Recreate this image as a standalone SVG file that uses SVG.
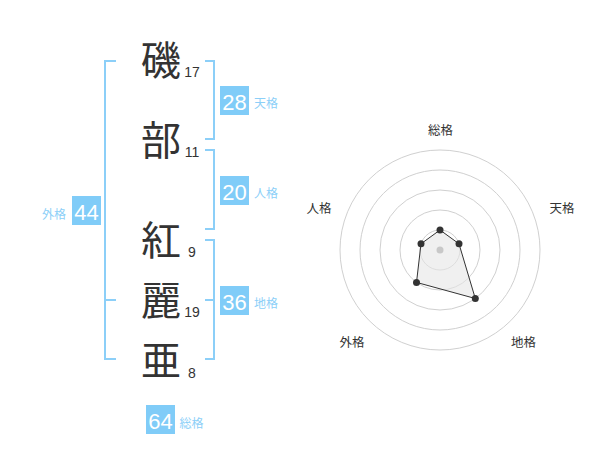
<svg xmlns="http://www.w3.org/2000/svg" width="600" height="470" viewBox="0 0 600 470">
<style>
.kanji{font-family:"Noto Sans CJK JP","Noto Sans CJK SC",sans-serif;font-size:40px;fill:#333;text-anchor:middle}
.num{font-family:"Liberation Sans",Arial,sans-serif;font-size:14px;fill:#333;text-anchor:middle}
.box{fill:#80ccf8}
.boxt{font-family:"Liberation Sans",Arial,sans-serif;font-size:22px;fill:#fff;text-anchor:middle}
.lab{font-family:"Noto Sans CJK JP","Noto Sans CJK SC",sans-serif;font-size:12px;fill:#8ccff8}
.br{fill:none;stroke:#8ccff8;stroke-width:2}
.ring{fill:none;stroke:#d0d0d0;stroke-width:1}
.rl{font-family:"Noto Sans CJK JP","Noto Sans CJK SC",sans-serif;font-size:12.5px;fill:#333;text-anchor:middle}
.pt{fill:#333}
</style>
<g id="connectors">
<path class="br" d="M205,61 H214 V139 H205"/>
<path class="br" d="M205,150 H214 V229 H205"/>
<path class="br" d="M205,240 H214 V359 H205 M205,300 H214"/>
<path class="br" d="M116,61 H105 V359 H116 M105,300 H116"/>
</g>
<g id="chars">
<text class="kanji" x="161" y="75">磯</text><text class="num" x="192" y="77">17</text>
<text class="kanji" x="161" y="155">部</text><text class="num" x="192" y="157">11</text>
<text class="kanji" x="161" y="255">紅</text><text class="num" x="192" y="257">9</text>
<text class="kanji" x="161" y="315">麗</text><text class="num" x="192" y="317">19</text>
<text class="kanji" x="161" y="375">亜</text><text class="num" x="192" y="378">8</text>
</g>
<g id="tenkaku"><rect class="box" x="220" y="86" width="29" height="29"/><text class="boxt" x="234.5" y="110">28</text><text class="lab" x="254" y="108">天格</text></g>
<g id="jinkaku"><rect class="box" x="220" y="176" width="29" height="29"/><text class="boxt" x="234.5" y="200">20</text><text class="lab" x="254" y="198">人格</text></g>
<g id="chikaku"><rect class="box" x="220" y="286" width="29" height="29"/><text class="boxt" x="234.5" y="310">36</text><text class="lab" x="254" y="308">地格</text></g>
<g id="gaikaku"><rect class="box" x="72" y="196" width="29" height="29"/><text class="boxt" x="86.5" y="220">44</text><text class="lab" x="66" y="218.5" text-anchor="end">外格</text></g>
<g id="soukaku"><rect class="box" x="146" y="405" width="29" height="29"/><text class="boxt" x="160.5" y="429">64</text><text class="lab" x="179.5" y="428">総格</text></g>
<g id="radar">
<circle class="ring" cx="440" cy="250" r="20"/>
<circle class="ring" cx="440" cy="250" r="40"/>
<circle class="ring" cx="440" cy="250" r="60"/>
<circle class="ring" cx="440" cy="250" r="80"/>
<circle class="ring" cx="440" cy="250" r="100"/>
<polygon points="440,230 459,243.8 475.3,298.5 416.5,282.4 421,243.8" fill="#e6e6e6" fill-opacity="0.6" stroke="#333" stroke-width="1"/>
<circle cx="440" cy="250" r="3.5" fill="#c8c8c8"/>
<circle class="pt" cx="440" cy="230" r="3.5"/>
<circle class="pt" cx="459" cy="243.8" r="3.5"/>
<circle class="pt" cx="475.3" cy="298.5" r="3.5"/>
<circle class="pt" cx="416.5" cy="282.4" r="3.5"/>
<circle class="pt" cx="421" cy="243.8" r="3.5"/>
<text class="rl" x="440.5" y="135">総格</text>
<text class="rl" x="562" y="213">天格</text>
<text class="rl" x="319" y="213">人格</text>
<text class="rl" x="352" y="346.5">外格</text>
<text class="rl" x="523.5" y="346.5">地格</text>
</g>
</svg>
